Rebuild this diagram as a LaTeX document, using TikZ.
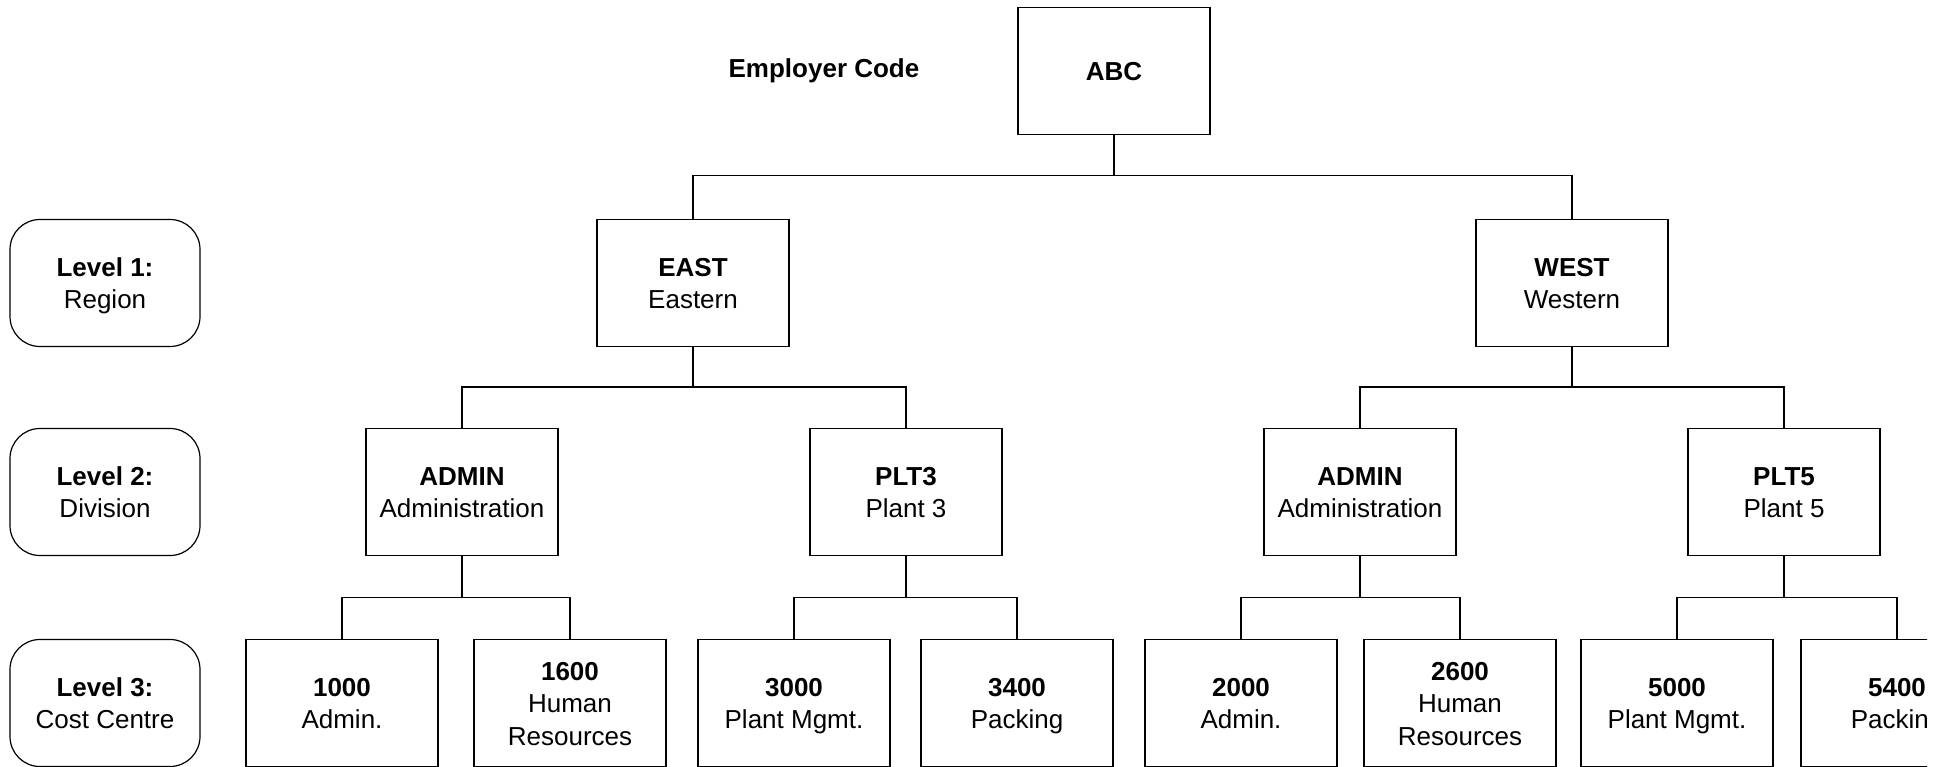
\documentclass[tikz,border=0pt]{standalone}
\usepackage{fontspec}
\setmainfont{Liberation Sans}
\newcommand\ub[1]{\raisebox{-3pt}[\height][\depth]{\begin{tabular}{@{}c@{}}#1\end{tabular}}}
\begin{document}
\begin{tikzpicture}[x=1pt,y=-1pt,
  every node/.style={font=\fontsize{26}{32.5}\selectfont, inner sep=0pt},
  unit/.style={draw, line width=1.2pt, minimum width=192pt, minimum height=127pt},
  levelbox/.style={draw, line width=1.2pt, rounded corners=30pt, minimum width=190pt, minimum height=127pt},
  conn/.style={line width=1.2pt}]
\useasboundingbox (0,0) rectangle (1952,767);
\begin{scope}
\clip (0,0) rectangle (1927,767);
% top
\node (emp) at (824,71) {\textbf{Employer Code}};
\node[unit] (abc) at (1114,71) {\ub{\textbf{ABC}}};
% level labels
\node[levelbox] (l1) at (105,283) {\ub{\textbf{Level 1:}\\Region}};
\node[levelbox] (l2) at (105,492) {\ub{\textbf{Level 2:}\\Division}};
\node[levelbox] (l3) at (105,703) {\ub{\textbf{Level 3:}\\Cost Centre}};
% level 1
\node[unit] (east) at (693,283) {\ub{\textbf{EAST}\\Eastern}};
\node[unit] (west) at (1572,283) {\ub{\textbf{WEST}\\Western}};
% level 2
\node[unit] (eadmin) at (462,492) {\ub{\textbf{ADMIN}\\Administration}};
\node[unit] (plt3) at (906,492) {\ub{\textbf{PLT3}\\Plant 3}};
\node[unit] (wadmin) at (1360,492) {\ub{\textbf{ADMIN}\\Administration}};
\node[unit] (plt5) at (1784,492) {\ub{\textbf{PLT5}\\Plant 5}};
% level 3
\node[unit] (c1000) at (342,703) {\ub{\textbf{1000}\\Admin.}};
\node[unit] (c1600) at (570,703) {\ub{\textbf{1600}\\Human\\Resources}};
\node[unit] (c3000) at (794,703) {\ub{\textbf{3000}\\Plant Mgmt.}};
\node[unit] (c3400) at (1017,703) {\ub{\textbf{3400}\\Packing}};
\node[unit] (c2000) at (1241,703) {\ub{\textbf{2000}\\Admin.}};
\node[unit] (c2600) at (1460,703) {\ub{\textbf{2600}\\Human\\Resources}};
\node[unit] (c5000) at (1677,703) {\ub{\textbf{5000}\\Plant Mgmt.}};
\node[unit] (c5400) at (1897,703) {\ub{\textbf{5400}\\Packing}};
% buses
\coordinate (b0) at (1114,175.5);
\coordinate (b1) at (693,387);
\coordinate (b2) at (1572,387);
\coordinate (b3) at (462,597.5);
\coordinate (b4) at (906,597.5);
\coordinate (b5) at (1360,597.5);
\coordinate (b6) at (1784,597.5);
% connectors
\draw[conn] (abc.south) -- (b0);
\draw[conn] (east.north) |- (b0) -| (west.north);
\draw[conn] (east.south) -- (b1);
\draw[conn] (eadmin.north) |- (b1) -| (plt3.north);
\draw[conn] (west.south) -- (b2);
\draw[conn] (wadmin.north) |- (b2) -| (plt5.north);
\draw[conn] (eadmin.south) -- (b3);
\draw[conn] (c1000.north) |- (b3) -| (c1600.north);
\draw[conn] (plt3.south) -- (b4);
\draw[conn] (c3000.north) |- (b4) -| (c3400.north);
\draw[conn] (wadmin.south) -- (b5);
\draw[conn] (c2000.north) |- (b5) -| (c2600.north);
\draw[conn] (plt5.south) -- (b6);
\draw[conn] (c5000.north) |- (b6) -| (c5400.north);
\end{scope}
\end{tikzpicture}
\end{document}
